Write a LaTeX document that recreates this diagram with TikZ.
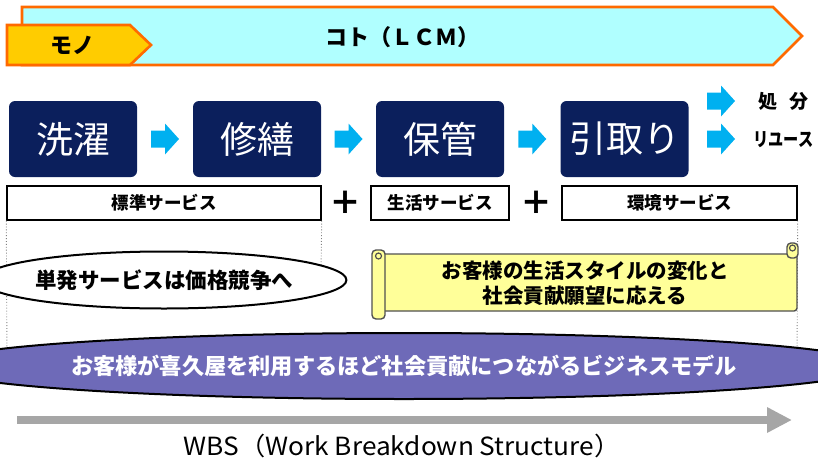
\documentclass[tikz,border=0pt]{standalone}
\usepackage{fontspec}
\setmainfont{Noto Sans CJK JP}
\usetikzlibrary{shapes.geometric,arrows.meta,calc}
\definecolor{navy}{HTML}{0B1F5C}
\definecolor{kotocyan}{HTML}{B0FFFF}
\definecolor{bandorange}{HTML}{FF6A00}
\definecolor{monogold}{HTML}{FFCC00}
\definecolor{flowcyan}{HTML}{00B0F0}
\definecolor{scrollyellow}{HTML}{FFFF99}
\definecolor{scrollgray}{HTML}{505050}
\definecolor{purplefill}{HTML}{6E6AB8}
\definecolor{wbsgray}{HTML}{A6A6A6}
\newcommand{\fs}[1]{\fontsize{#1}{#1}\selectfont}
\tikzset{
  stagebox/.style={fill=navy, rounded corners=6pt, minimum width=128pt, minimum height=76pt, text=white, font=\fs{37}, inner sep=0pt},
  fatarrow/.pic={\fill[flowcyan] (-14,-8.5) -- (0,-8.5) -- (0,-15.5) -- (14,0) -- (0,15.5) -- (0,8.5) -- (-14,8.5) -- cycle;},
  servbox/.style={draw=black, line width=1.4pt, fill=white, minimum height=34pt, font=\bfseries\fs{17.5}, inner sep=0pt},
  plussign/.style={font=\bfseries\fs{32}, inner sep=0pt},
  guide/.style={draw=gray, dotted, line width=0.9pt},
}
\begin{document}
\begin{tikzpicture}[x=1pt,y=-1pt]
\useasboundingbox (0,0) rectangle (818,463);
% top banners
\draw[draw=bandorange, line width=2.6pt, fill=kotocyan, line join=miter]
  (22,7) -- (773,7) -- (802,36) -- (773,65) -- (22,65) -- cycle;
\draw[draw=bandorange, line width=2.6pt, fill=monogold, line join=miter]
  (7,25) -- (130,25) -- (151,45) -- (130,65) -- (7,65) -- cycle;
\node[font=\bfseries\fs{22}] (mono) at (72,45) {モノ};
\node[font=\bfseries\fs{22}] (koto) at (402,37) {コト（ＬＣＭ）};
% stage boxes
\node[stagebox] (b1) at (73,139) {洗濯};
\node[stagebox] (b2) at (257,139) {修繕};
\node[stagebox] (b3) at (440,139) {保管};
\node[stagebox] (b4) at (624.5,139) {引取り};
\coordinate (a1) at ($(b1.east)!0.5!(b2.west)$);
\coordinate (a2) at ($(b2.east)!0.5!(b3.west)$);
\coordinate (a3) at ($(b3.east)!0.5!(b4.west)$);
\coordinate (a4) at (721,101);
\coordinate (a5) at (721,139);
\pic at (a1) {fatarrow};
\pic at (a2) {fatarrow};
\pic at (a3) {fatarrow};
\pic at (a4) {fatarrow};
\pic at (a5) {fatarrow};
\node[font=\bfseries\fs{19}, anchor=west, inner sep=0pt] (t1) at (758,101) {処\hspace{12pt}分};
\node[font=\bfseries\fs{19}, anchor=west, inner sep=0pt, xscale=0.8] (t2) at (753,140) {リユース};
% service boxes
\node[servbox, minimum width=314pt] (s1) at (164,203) {標準サービス};
\node[servbox, minimum width=138pt] (s2) at (440,203) {生活サービス};
\node[servbox, minimum width=235pt] (s3) at (679.5,203) {環境サービス};
\node[plussign] (p1) at (345,203) {＋};
\node[plussign] (p2) at (536,203) {＋};
% guides
\coordinate (g1) at (7,362);
\coordinate (g2) at (321,272);
\coordinate (g3) at (797,362);
\draw[guide] (s1.south west) -- (g1);
\draw[guide] (s1.south east) -- (g2);
\draw[guide] (s3.south east) -- (g3);
% ellipse
\node[ellipse, draw=black, line width=2pt, fill=white, minimum width=314pt, minimum height=57pt, inner sep=0pt, font=\bfseries\fs{21.5}] (e1) at (164,280) {単発サービスは価格競争へ};
% scroll
\draw[draw=scrollgray, line width=1.4pt, fill=scrollyellow, rounded corners=3pt]
  (379,254) rectangle (797,311);
\draw[draw=scrollgray, line width=1.4pt, fill=scrollyellow, rounded corners=4pt]
  (372,250) rectangle (385,319);
\draw[draw=scrollgray, line width=1.2pt, fill=scrollyellow] (378.5,256) circle (3pt);
\draw[draw=scrollgray, line width=1.4pt, fill=scrollyellow, rounded corners=4pt]
  (787,243) rectangle (798,258);
\draw[draw=scrollgray, line width=1.2pt, fill=scrollyellow] (792.5,248) circle (3pt);
\node[font=\bfseries\fs{20.5}, align=center] (sc) at (585,283) {お客様の生活スタイルの変化と\\[4pt]社会貢献願望に応える};
% purple ellipse
\node[ellipse, draw=black, line width=2pt, fill=purplefill, minimum width=792pt, minimum height=66pt, inner sep=0pt, text=white, font=\bfseries\fs{22.2}] (e2) at (404,366) {お客様が喜久屋を利用するほど社会貢献につながるビジネスモデル};
% WBS arrow
\coordinate (w1) at (17,420);
\coordinate (w2) at (792,420);
\draw[wbsgray, line width=8pt, -{Triangle[length=25pt,width=24pt]}] (w1) -- (w2);
\node[font=\fs{25}, xscale=1.05] (wbs) at (402,446) {WBS（Work Breakdown Structure）};
\end{tikzpicture}
\end{document}
